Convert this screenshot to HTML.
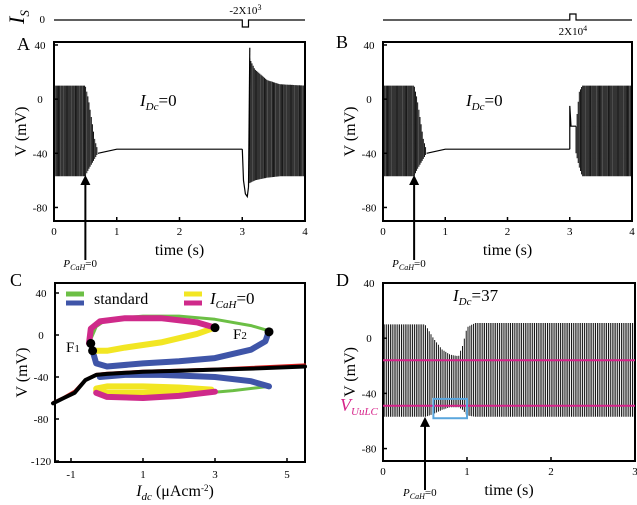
<!DOCTYPE html>
<html><head><meta charset="utf-8"><style>
body{margin:0;background:#fff}
svg{display:block;font-family:"Liberation Serif",serif}
</style></head><body>
<svg id="s" width="637" height="505" viewBox="0 0 637 505" xmlns="http://www.w3.org/2000/svg">
<g id="g"></g>
</svg>
<script>
// ---- data ----
const aTime=[0,0.5,0.55,0.6,0.65,0.7];
const aUpper=[10,10,0,-15,-30,-38];
const aLower=[-57,-57,-52,-48,-44,-40];
const aRestT=[0.7,1.0,1.5,3.0];
const aRestV=[-40,-37,-37,-37];
const aPulseT=[3.0,3.02,3.05,3.08,3.1];
const aPulseV=[-37,-60,-70,-72,-65];
const aBurstT=[3.12,3.2,3.4,3.6,4.0];
const aBurstU=[30,22,14,11,10];
const aBurstL=[-62,-60,-58,-57,-57];
const bTime=[0,0.5,0.55,0.6,0.65,0.7];
const bUpper=[10,10,0,-15,-30,-38];
const bLower=[-57,-57,-52,-48,-44,-40];
const bRestT=[0.7,1.0,1.5,3.0];
const bRestV=[-40,-37,-37,-37];
const bBurstT=[3.1,3.15,3.2,4.0];
const bBurstU=[-20,5,10,10];
const bBurstL=[-40,-50,-57,-57];
const dTime=[0,0.5,0.6,0.7,0.8,0.9,0.95,1.0,1.1,3.0];
const dUpper=[10,10,0,-8,-12,-13,-5,8,11,11];
const dLower=[-57,-57,-55,-52,-50,-50,-52,-56,-57,-57];
const dLines=[-16,-49];
const cGreen=[[-0.5,-8],[-0.3,8],[0,15],[1,18],[2,18],[3,15],[4,9],[4.5,4]];
const cBlueU=[[4.5,4],[4.4,-6],[4,-14],[3,-22],[2,-25],[1,-27],[0,-30],[-0.3,-27],[-0.4,-15]];
const cMagU=[[-0.5,-8],[-0.45,6],[-0.2,13],[0.5,16],[1.5,16],[2.5,12],[3,7]];
const cYelU=[[3,7],[2.5,1],[1.5,-7],[0.5,-12],[0,-15],[-0.4,-15]];
const cBlueL=[[-0.2,-40],[0.5,-38],[1.5,-38],[3,-40],[4,-44],[4.5,-49]];
const cGreenL=[[4.5,-49],[3.5,-53],[2.5,-56],[1,-58],[0,-57],[-0.3,-55]];
const cYelL=[[-0.3,-51],[0,-49],[1,-49],[2,-50],[2.9,-52],[2,-54],[1,-55],[0,-55],[-0.3,-53]];
const cMagL=[[-0.3,-55],[0,-59],[1,-60],[2,-58],[3,-54]];
const cBlack=[[-1.5,-65],[-1.2,-60],[-0.9,-55],[-0.6,-43],[-0.3,-38],[0,-37],[1,-35],[2,-34],[3,-33],[4,-32],[5.5,-30]];
const cRed=[[-1.5,-64],[-1.2,-59],[-0.9,-53],[-0.6,-42],[-0.3,-37],[0,-36],[1,-34],[3,-32],[5.5,-28]];
const cDots=[[-0.45,-8],[-0.4,-15],[3,7],[4.5,3]];
const tTicks=[0,1,2,3,4], dTicks=[0,1,2,3], vTicks=[40,0,-40,-80], cYTicks=[40,0,-40,-80,-120], cXTicks=[-1,1,3,5];

const NS="http://www.w3.org/2000/svg", G=document.getElementById('g');
function el(t,a,txt){const e=document.createElementNS(NS,t);for(const k in a)e.setAttribute(k,a[k]);if(txt!==undefined)e.textContent=txt;G.appendChild(e);return e;}
function lerp(ts,vs,t){for(let i=0;i<ts.length-1;i++){if(t>=ts[i]&&t<=ts[i+1]){const f=(t-ts[i])/(ts[i+1]-ts[i]);return vs[i]+f*(vs[i+1]-vs[i]);}}return vs[vs.length-1];}
function txt(x,y,s,size,name,anchor){const e=el('text',{x:x,y:y,'font-size':size,'text-anchor':anchor||'middle',fill:'#000'});e.innerHTML=s;return e;}
function spikes(X,Y,ts,up,lo,per,name){let d='';for(let t=ts[0];t<=ts[ts.length-1]+1e-9;t+=per){d+='M'+X(t).toFixed(1)+' '+Y(lerp(ts,up,t)).toFixed(1)+'V'+Y(lerp(ts,lo,t)).toFixed(1);}const p=el('path',{d:d,stroke:'#000','stroke-width':0.9,fill:'none'});}
function line(X,Y,ts,vs,name,col,w){let d='';ts.forEach((t,i)=>{d+=(i?'L':'M')+X(t).toFixed(1)+' '+Y(vs[i]).toFixed(1);});const p=el('path',{d:d,stroke:col||'#000','stroke-width':w||1.2,fill:'none'});}
function frame(x0,y0,x1,y1,name){const r=el('rect',{x:x0,y:y0,width:x1-x0,height:y1-y0,fill:'none',stroke:'#000','stroke-width':2});}
function arrow(x,yTop,yBot,name){const p=el('path',{d:`M${x} ${yBot}V${yTop+8}`,stroke:'#000','stroke-width':2});const h=el('path',{d:`M${x-5} ${yTop+10}L${x} ${yTop}L${x+5} ${yTop+10}Z`,fill:'#000'});}
function timePanel(x0,x1,y0,y1,tmax,vTop,vBot,ticks,nm){
 const X=t=>x0+(x1-x0)*t/tmax, Y=v=>y0+(y1-y0)*(vTop-v)/(vTop-vBot);
 frame(x0,y0,x1,y1,nm+'-frame');
 vTicks.forEach(v=>{el('line',{x1:x0,x2:x0+4,y1:Y(v),y2:Y(v),stroke:'#000','stroke-width':1.5});txt(x0-14,Y(v)+4,v,11,nm+'-ytick');});
 ticks.forEach(t=>{el('line',{x1:X(t),x2:X(t),y1:y1,y2:y1-4,stroke:'#000','stroke-width':1.5});txt(X(t),y1+14,t,11,nm+'-xtick');});
 txt(X(tmax/2),y1+34,'time (s)',16,nm+'-x-title');
 const yl=txt(0,0,'V (mV)',16,nm+'-y-title');yl.setAttribute('transform',`translate(${x0-28},${(y0+y1)/2}) rotate(-90)`);
 return [X,Y];}

// Panel A
let [XA,YA]=timePanel(54,305,42,221,4,42.2,-90,tTicks,'panel-a');
spikes(XA,YA,aTime,aUpper,aLower,0.018,'a-spikes-initial');
line(XA,YA,aRestT,aRestV,'a-rest-trace');
line(XA,YA,aPulseT,aPulseV,'a-pulse-trace');
spikes(XA,YA,aBurstT,aBurstU,aBurstL,0.018,'a-spikes-after');
line(XA,YA,[3.1,3.12],[-65,38],'a-rebound');
txt(140,106,'<tspan font-style="italic">I</tspan><tspan font-style="italic" font-size="11" dy="4">Dc</tspan><tspan dy="-4">=0</tspan>',17,'a-idc-label','start');
arrow(XA(0.5),YA(-56),260,'a-arrow');
txt(XA(0.5)-22,267,'<tspan font-style="italic">P</tspan><tspan font-style="italic" font-size="8" dy="3">CaH</tspan><tspan dy="-3">=0</tspan>',11,'a-pcah-label','start');
line(XA,v=>v,[0,3.0,3.0,3.1,3.1,4],[20,20,27,27,20,20],'a-stimulus');
txt(XA(3.05),14,'-2X10<tspan font-size="8" dy="-4">3</tspan>',11,'a-stim-label');
{const t=txt(0,0,'<tspan font-style="italic">I</tspan><tspan font-size="13" font-style="italic" dy="5">S</tspan>',22,'is-label','start');t.setAttribute('transform','translate(24,24) rotate(-90)');}
txt(45,23,'0',11,'a-stim-zero','end');
txt(30,50,'A',18,'panel-a-letter','end');

// Panel B
let [XB,YB]=timePanel(383,632,42,221,4,42.2,-90,tTicks,'panel-b');
spikes(XB,YB,bTime,bUpper,bLower,0.018,'b-spikes-initial');
line(XB,YB,bRestT,bRestV,'b-rest-trace');
line(XB,YB,[3.0,3.0,3.02,3.1],[-37,-5,-20,-20],'b-jump');
spikes(XB,YB,bBurstT,bBurstU,bBurstL,0.018,'b-spikes-after');
txt(466,106,'<tspan font-style="italic">I</tspan><tspan font-style="italic" font-size="11" dy="4">Dc</tspan><tspan dy="-4">=0</tspan>',17,'b-idc-label','start');
arrow(XB(0.5),YB(-56),260,'b-arrow');
txt(XB(0.5)-22,267,'<tspan font-style="italic">P</tspan><tspan font-style="italic" font-size="8" dy="3">CaH</tspan><tspan dy="-3">=0</tspan>',11,'b-pcah-label','start');
line(XB,v=>v,[0,3.0,3.0,3.1,3.1,4],[20,20,14,14,20,20],'b-stimulus');
txt(XB(3.05),35,'2X10<tspan font-size="8" dy="-4">4</tspan>',11,'b-stim-label');
txt(336,48,'B',18,'panel-b-letter','start');

// Panel D
let [XD,YD]=timePanel(383,635,283,461,3,40,-89,dTicks,'panel-d');
spikes(XD,YD,dTime,dUpper,dLower,0.022,'d-spikes');
dLines.forEach((v,i)=>{const l=el('line',{x1:383,x2:635,y1:YD(v),y2:YD(v),stroke:'#d6238a','stroke-width':2});});
{const r=el('rect',{x:XD(0.6),y:YD(-44),width:XD(1.0)-XD(0.6),height:YD(-58)-YD(-44),fill:'none',stroke:'#5aa6dd','stroke-width':2});}
txt(453,301,'<tspan font-style="italic">I</tspan><tspan font-style="italic" font-size="11" dy="4">Dc</tspan><tspan dy="-4">=37</tspan>',17,'d-idc-label','start');
txt(340,411,'<tspan font-style="italic">V</tspan><tspan font-style="italic" font-size="11" dy="4">UuLC</tspan>',18,'d-vuulc-label','start').setAttribute('fill','#d6238a');
arrow(XD(0.5),YD(-57),490,'d-arrow');
txt(XD(0.5)-22,496,'<tspan font-style="italic">P</tspan><tspan font-style="italic" font-size="8" dy="3">CaH</tspan><tspan dy="-3">=0</tspan>',11,'d-pcah-label','start');
txt(336,286,'D',18,'panel-d-letter','start');

// Panel C
{const x0=55,x1=305,y0=283,y1=462;
 const X=i=>107+36*i, Y=v=>335-1.05*v;
 frame(x0,y0,x1,y1,'panel-c-frame');
 cYTicks.forEach(v=>{el('line',{x1:x0,x2:x0+4,y1:Y(v),y2:Y(v),stroke:'#000','stroke-width':1.5});txt(x0-14,Y(v)+4,v,11,'c-ytick');});
 cXTicks.forEach(t=>{el('line',{x1:X(t),x2:X(t),y1:y1,y2:y1-4,stroke:'#000','stroke-width':1.5});txt(X(t),y1+16,t,11,'c-xtick');});
 const pl=(pts,col,w,name)=>{let d='';pts.forEach((p,i)=>{d+=(i?'L':'M')+X(p[0]).toFixed(1)+' '+Y(p[1]).toFixed(1);});const p=el('path',{d:d,stroke:col,'stroke-width':w,fill:'none','stroke-linejoin':'round','stroke-linecap':'round'});};
 pl(cGreen,'#6cbf45',3,'c-green-upper');
 pl(cGreenL,'#6cbf45',3,'c-green-lower');
 pl(cBlueU,'#3f55a8',6,'c-blue-upper');
 pl(cBlueL,'#3f55a8',6,'c-blue-lower');
 pl(cYelU,'#f2e623',6,'c-yellow-upper');
 pl(cYelL,'#f2e623',6,'c-yellow-lower');
 pl(cMagU,'#cf2a8a',6,'c-magenta-upper');
 pl(cMagL,'#cf2a8a',6,'c-magenta-lower');
 pl(cRed,'#e0201f',2,'c-red-line');
 pl(cBlack,'#000',4,'c-black-line');
 cDots.forEach(p=>{const c=el('circle',{cx:X(p[0]),cy:Y(p[1]),r:4.5,fill:'#000'});});
 [['#6cbf45',294],['#3f55a8',303]].forEach(([c,y])=>{const l=el('line',{x1:66,x2:84,y1:y,y2:y,stroke:c,'stroke-width':5});});
 [['#f2e623',294],['#cf2a8a',303]].forEach(([c,y])=>{const l=el('line',{x1:184,x2:202,y1:y,y2:y,stroke:c,'stroke-width':5});});
 txt(94,304,'standard',16,'legend-standard-label','start');
 txt(210,304,'<tspan font-style="italic">I</tspan><tspan font-style="italic" font-size="11" dy="4">CaH</tspan><tspan dy="-4">=0</tspan>',17,'legend-icah-label','start');
 txt(66,352,'F<tspan font-size="11">1</tspan>',15,'c-f1-label','start');
 txt(233,339,'F<tspan font-size="11">2</tspan>',15,'c-f2-label','start');
 const yl=txt(0,0,'V (mV)',16,'c-y-title');yl.setAttribute('transform',`translate(27,${(y0+y1)/2}) rotate(-90)`);
 txt(175,496,'<tspan font-style="italic">I</tspan><tspan font-style="italic" font-size="11" dy="4">dc</tspan><tspan dy="-4"> (μAcm</tspan><tspan font-size="9" dy="-5">-2</tspan><tspan dy="5">)</tspan>',16,'c-x-title');
 txt(10,286,'C',18,'panel-c-letter','start');
}
</script>
</body></html>
